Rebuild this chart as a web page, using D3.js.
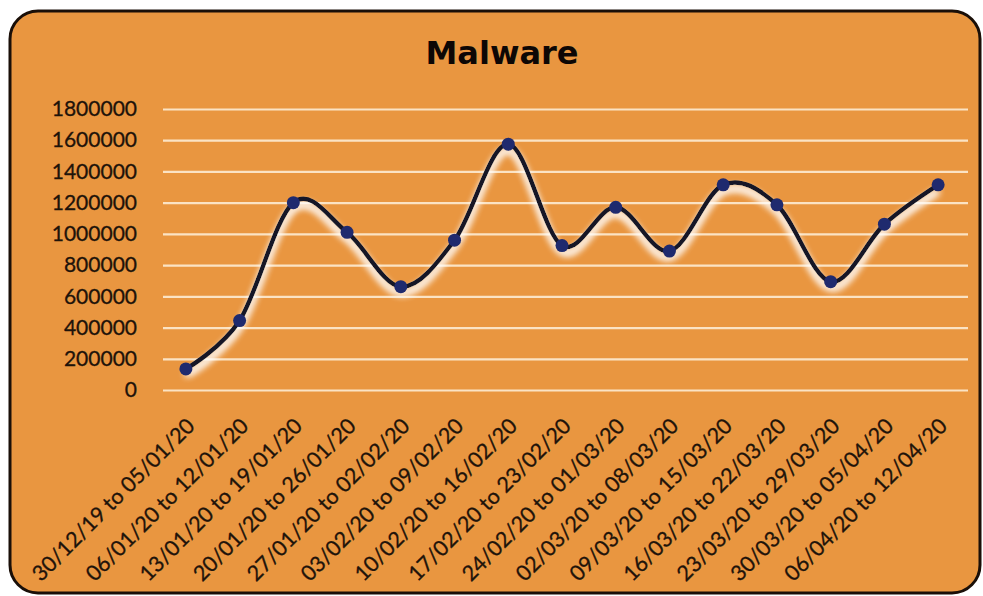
<!DOCTYPE html>
<html>
<head>
<script src="https://d3js.org/d3.v7.min.js"></script>
<style>
  body { margin: 0; background: #ffffff; }
</style>
</head>
<body>
<svg id="chart"></svg>
<script>
  const weeks = ["30/12/19 to 05/01/20", "06/01/20 to 12/01/20", "13/01/20 to 19/01/20",
    "20/01/20 to 26/01/20", "27/01/20 to 02/02/20", "03/02/20 to 09/02/20",
    "10/02/20 to 16/02/20", "17/02/20 to 23/02/20", "24/02/20 to 01/03/20",
    "02/03/20 to 08/03/20", "09/03/20 to 15/03/20", "16/03/20 to 22/03/20",
    "23/03/20 to 29/03/20", "30/03/20 to 05/04/20", "06/04/20 to 12/04/20"];
  const malware = [135000, 445000, 1200000, 1010000, 662000, 960000, 1575000, 925000,
    1170000, 890000, 1314000, 1186000, 694000, 1062000, 1314000];
  const yTicks = [0, 200000, 400000, 600000, 800000, 1000000, 1200000, 1400000, 1600000, 1800000];

  const width = 983, height = 596;
  const margin = { top: 109, right: 15, bottom: 206, left: 163 };

  const svg = d3.select("#chart").attr("width", width).attr("height", height);

  const defs = svg.append("defs");
  const glow = defs.append("filter").attr("id", "glow")
    .attr("x", "-10%").attr("y", "-20%").attr("width", "120%").attr("height", "150%");
  glow.append("feGaussianBlur").attr("in", "SourceAlpha").attr("stdDeviation", 3.5).attr("result", "b");
  glow.append("feOffset").attr("in", "b").attr("dx", 0).attr("dy", 6).attr("result", "o");
  glow.append("feFlood").attr("flood-color", "#ffffff").attr("flood-opacity", 1);
  glow.append("feComposite").attr("in2", "o").attr("operator", "in").attr("result", "s");
  const merge = glow.append("feMerge");
  merge.append("feMergeNode").attr("in", "s");
  merge.append("feMergeNode").attr("in", "s");
  merge.append("feMergeNode").attr("in", "SourceGraphic");

  svg.append("rect")
    .attr("x", 10).attr("y", 11).attr("width", 970).attr("height", 582)
    .attr("rx", 28).attr("ry", 28)
    .attr("fill", "#e99640").attr("stroke", "#1a0f08").attr("stroke-width", 3);

  svg.append("text")
    .attr("x", 502).attr("y", 64)
    .attr("text-anchor", "middle")
    .attr("font-family", "DejaVu Sans, sans-serif")
    .attr("font-weight", "bold").attr("font-size", 32)
    .attr("fill", "#0d0705")
    .text("Malware");

  const x = d3.scaleBand().domain(weeks).range([margin.left - 4, width - margin.right - 3]);
  const y = d3.scaleLinear().domain([0, 1800000]).range([height - margin.bottom, margin.top]);

  const yAxis = svg.append("g")
    .attr("transform", `translate(${margin.left},0)`)
    .call(d3.axisLeft(y).tickValues(yTicks).tickSize(-(width - margin.right - margin.left)).tickFormat(d3.format("d")).tickPadding(26));
  yAxis.select(".domain").remove();
  yAxis.selectAll(".tick line").attr("stroke", "#fbe3c4").attr("stroke-width", 2.2);
  yAxis.selectAll(".tick text")
    .attr("font-family", "Lato, sans-serif").attr("font-size", 21).attr("fill", "#1e130a")
    .attr("stroke", "#1e130a").attr("stroke-width", 0.3);

  const xAxis = svg.append("g")
    .attr("transform", `translate(0,${height - margin.bottom})`)
    .call(d3.axisBottom(x).tickSize(0));
  xAxis.select(".domain").remove();
  xAxis.selectAll(".tick text")
    .attr("font-family", "Lato, sans-serif").attr("font-size", 21.5).attr("fill", "#1e130a")
    .attr("stroke", "#1e130a").attr("stroke-width", 0.3)
    .attr("text-anchor", "end")
    .attr("transform", "translate(5,32) rotate(-45)")
    .attr("dy", "0.35em").attr("y", 0);

  const line = d3.line()
    .x((d, i) => x(weeks[i]) + x.bandwidth() / 2)
    .y(d => y(d))
    .curve(d3.curveCardinal.tension(0));

  svg.append("path")
    .datum(malware)
    .attr("d", line)
    .attr("fill", "none")
    .attr("stroke", "#121226")
    .attr("stroke-width", 4.5)
    .attr("filter", "url(#glow)");

  svg.selectAll("circle.pt")
    .data(malware)
    .join("circle")
    .attr("class", "pt")
    .attr("cx", (d, i) => x(weeks[i]) + x.bandwidth() / 2)
    .attr("cy", d => y(d))
    .attr("r", 6.5)
    .attr("fill", "#1f2a6e");
</script>
</body>
</html>
